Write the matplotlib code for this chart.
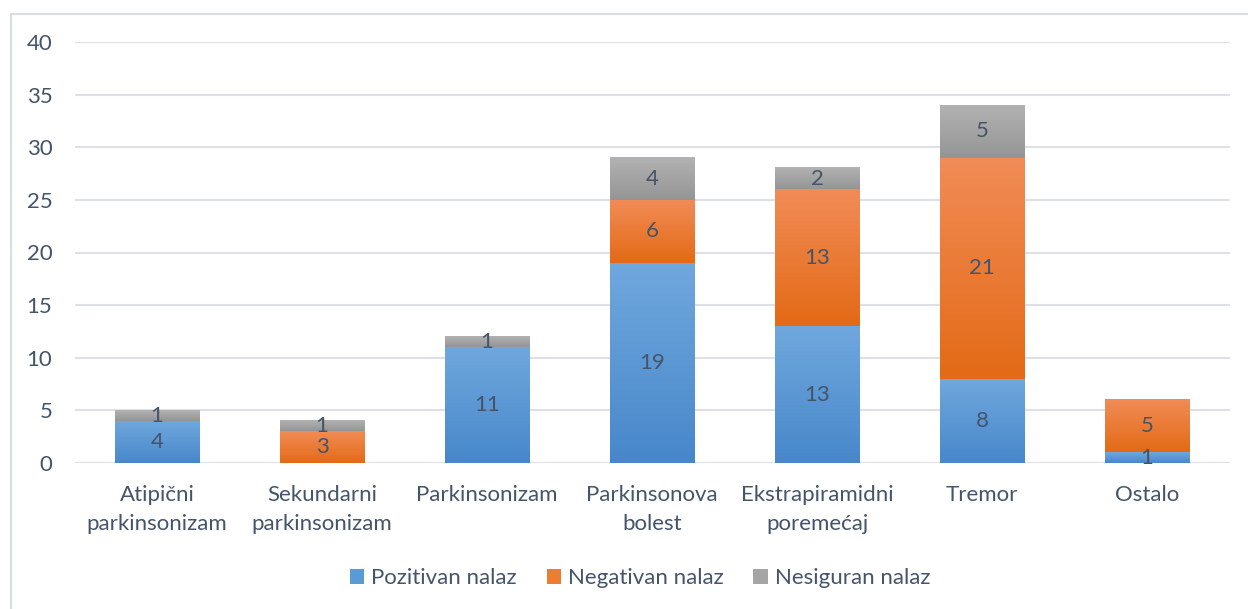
import numpy as np
import matplotlib
matplotlib.use("Agg")
import matplotlib.pyplot as plt
from matplotlib.colors import LinearSegmentedColormap
from matplotlib.patches import Rectangle, Patch

categories = ["Atipični\nparkinsonizam", "Sekundarni\nparkinsonizam", "Parkinsonizam",
              "Parkinsonova\nbolest", "Ekstrapiramidni\nporemećaj", "Tremor", "Ostalo"]
series_names = ["Pozitivan nalaz", "Negativan nalaz", "Nesiguran nalaz"]
pozitivan = [4, 0, 11, 19, 13, 8, 1]
negativan = [0, 3, 0, 6, 13, 21, 5]
nesiguran = [1, 1, 1, 4, 2, 5, 0]
yticks = [0, 5, 10, 15, 20, 25, 30, 35, 40]

# gradient (top colour, bottom colour) and legend colour for each series
grads = [("#70A8DD", "#4787CA"), ("#F18C57", "#E36A16"), ("#B2B2B2", "#959595")]
legend_cols = ["#5B9BD5", "#ED7D31", "#A5A5A5"]
text_col = "#44546A"
grid_col = "#DDE1E7"

plt.rcParams['font.family'] = ['Lato', 'DejaVu Sans']

fig = plt.figure(figsize=(12.48, 6.09), dpi=100)
ax = fig.add_axes([74.5 / 1248, (609 - 463) / 609, 1155 / 1248, (463 - 42) / 609])

x = np.arange(len(categories))
data = [pozitivan, negativan, nesiguran]
bottom = np.zeros(len(categories))
for k, vals in enumerate(data):
    vals = np.array(vals, dtype=float)
    bars = ax.bar(x, vals, width=0.515, bottom=bottom, color="none", linewidth=0, zorder=3)
    cmap = LinearSegmentedColormap.from_list("g%d" % k, [grads[k][1], grads[k][0]])
    grad = np.linspace(0, 1, 256).reshape(-1, 1)
    for b, v in zip(bars, vals):
        if v <= 0:
            continue
        x0, y0, w, h = b.get_x(), b.get_y(), b.get_width(), b.get_height()
        ax.imshow(grad, cmap=cmap, origin="lower", aspect="auto",
                  extent=[x0, x0 + w, y0, y0 + h], zorder=3, interpolation="bilinear")
        ax.text(x0 + w / 2, y0 + h / 2, "%d" % v, ha="center", va="center",
                fontsize=16, color=text_col, zorder=5)
    bottom += vals

ax.set_xlim(-0.5, len(categories) - 0.5)
ax.set_ylim(0, 40)
ax.set_yticks(yticks)
ax.set_xticks(x)
ax.set_xticklabels(categories, linespacing=1.55)
ax.tick_params(axis="both", length=0, labelsize=16, labelcolor=text_col)
ax.tick_params(axis="y", pad=16)
ax.tick_params(axis="x", pad=16)
for s in ax.spines.values():
    s.set_visible(False)
ax.yaxis.grid(True, color=grid_col, linewidth=1.5, zorder=0)
ax.set_axisbelow(True)
ax.set_facecolor("none")

handles = [Patch(facecolor=c, edgecolor="none") for c in legend_cols]
fig.legend(handles, series_names, loc="center", bbox_to_anchor=(640 / 1248, 1 - 578 / 609),
           ncol=3, frameon=False, fontsize=16, labelcolor=text_col,
           handlelength=0.65, handleheight=0.65, handletextpad=0.3, columnspacing=1.35)

# outer chart border
fig.patches.append(Rectangle((11 / 1248, -0.1), 1.2, 1 - 14 / 609 + 0.1,
                             transform=fig.transFigure, fill=False,
                             edgecolor="#D9DEE6", linewidth=1.5, zorder=-1))

fig.savefig("out.png", dpi=100)
